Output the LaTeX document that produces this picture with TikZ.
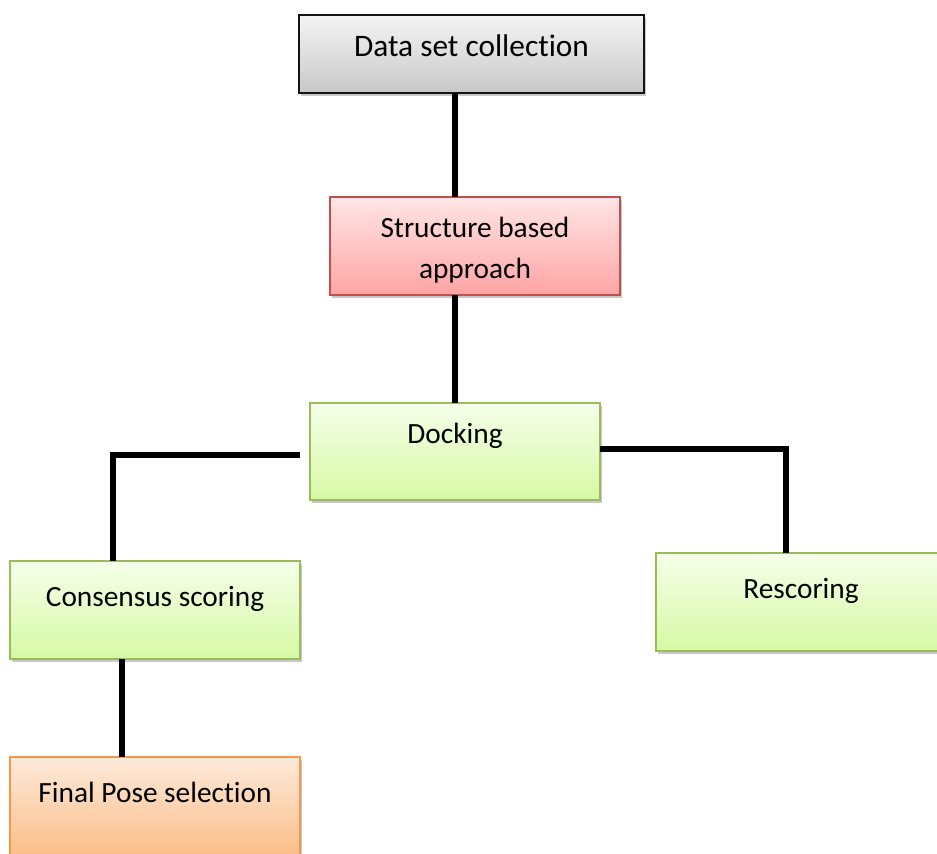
\documentclass[tikz,border=0pt]{standalone}
\usepackage{fontspec}
\setmainfont{Carlito}[Ligatures=NoCommon]
\usepackage{xcolor}
\usepackage{tikz}
\usetikzlibrary{positioning,calc,shadows}
\definecolor{grayedge}{RGB}{20,20,20}
\definecolor{graytop}{RGB}{244,244,244}
\definecolor{graybot}{RGB}{200,200,200}
\definecolor{rededge}{RGB}{192,80,77}
\definecolor{redtop}{RGB}{255,230,230}
\definecolor{redbot}{RGB}{255,164,164}
\definecolor{greenedge}{RGB}{155,187,89}
\definecolor{greentop}{RGB}{246,255,234}
\definecolor{greenbot}{RGB}{214,249,164}
\definecolor{orangeedge}{RGB}{247,150,70}
\definecolor{orangetop}{RGB}{253,234,218}
\definecolor{orangebot}{RGB}{251,190,138}
\tikzset{
  blk/.style={rectangle,line width=1.2pt,inner xsep=4pt,inner ysep=0pt,outer sep=0pt,
              minimum width=217.5pt,align=center,
              font=\fontsize{22pt}{30.75pt}\selectfont,
              drop shadow={shadow xshift=1.5pt,shadow yshift=-2pt,opacity=0.3,fill=black!70}},
  blkgray/.style={blk,draw=grayedge,top color=graytop,bottom color=graybot,
                  font=\fontsize{23.5pt}{30.75pt}\selectfont,
                  minimum width=258.75pt,text height=30.75pt,text depth=27.75pt},
  blkred/.style={blk,draw=rededge,top color=redtop,bottom color=redbot,
                 text height=60.75pt,text depth=12.75pt},
  blkgreen/.style={blk,draw=greenedge,top color=greentop,bottom color=greenbot,
                   text height=33.75pt,text depth=39.75pt},
  blkorange/.style={blk,draw=orangeedge,top color=orangetop,bottom color=orangebot,
                    text height=33.75pt,text depth=39.75pt},
  link/.style={line width=3.8pt,draw=black},
}
\begin{document}
\begin{tikzpicture}[x=0.75pt,y=-0.75pt]
  \useasboundingbox (0,0) rectangle (937,853);

  \node[blkgray]   (data)  at (471.5,54)  {Data set collection};
  \node[blkred]    (struc) at (475,246)   {Structure based\\approach};
  \node[blkgreen,text height=30pt,text depth=42.75pt] (dock) at (455,451.5) {Docking};
  \node[blkgreen]  (cons)  at (155,610)   {Consensus scoring};
  \node[blkgreen]  (resc)  at (801,602)   {Rescoring};
  \node[blkorange] (final) at (155,806)   {Final Pose selection};

  % tree links
  \draw[link] (data.south -| dock.north) -- (struc.north -| dock.north);
  \draw[link] (struc.south -| dock.north) -- (dock.north);
  \draw[link] ($(dock.west)+(-10,3.5)$) -| ($(cons.north)+(-42,0)$);
  \draw[link] ($(dock.east)+(0,-2.5)$) -| ($(resc.north)+(-15,0)$);
  \draw[link] ($(cons.south)+(-33,0)$) -- ($(final.north)+(-33,0)$);
\end{tikzpicture}
\end{document}
